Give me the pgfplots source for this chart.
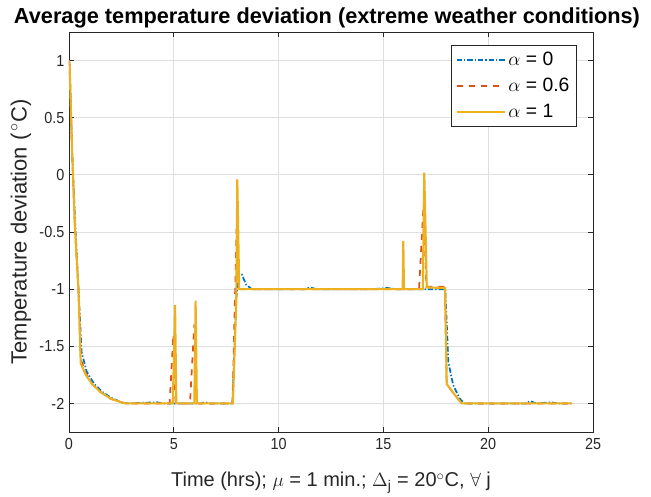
\documentclass[border=0pt]{standalone}
\usepackage{fontspec}
\setmainfont{Liberation Sans}
\newfontfamily\tickfont{Liberation Sans}[FakeStretch=0.9]
\usepackage{pgfplots}
\pgfplotsset{compat=1.18}
\definecolor{mblue}{rgb}{0,0.447,0.741}
\definecolor{mred}{rgb}{0.85,0.325,0.098}
\definecolor{myellow}{rgb}{0.929,0.694,0.125}
\definecolor{mgrid}{RGB}{223,223,223}
\definecolor{maxis}{RGB}{38,38,38}
\begin{document}
\begin{tikzpicture}
\begin{axis}[
  scale only axis, width=393pt, height=300pt,
  xmin=0, xmax=25, ymin=-2.25, ymax=1.25,
  xtick={0,5,10,15,20,25}, xticklabels={0,5,10,15,20,25},
  ytick={-2,-1.5,-1,-0.5,0,0.5,1}, yticklabels={-2,-1.5,-1,-0.5,0,0.5,1},
  tick align=inside, major tick length=4pt,
  grid=major, grid style={mgrid, line width=0.6pt},
  axis line style={maxis, line width=0.6pt},
  tick style={maxis, line width=0.6pt},
  ticklabel style={font=\tickfont\fontsize{12}{14}\selectfont, text=maxis},
  xticklabel style={yshift=-1pt},
  title={\bfseries Average temperature deviation (extreme weather conditions)},
  title style={font=\fontsize{16.3}{19}\selectfont, at={(axis description cs:0.5,1)}, anchor=base, yshift=0pt, xshift=-3pt},
  xlabel={Time (hrs); $\mu$ = 1 min.; $\Delta_{\mathrm{j}}$ = 20$^\circ$C, $\forall$ j},
  xlabel style={font=\fontsize{15}{17}\selectfont, text=maxis, at={(axis description cs:0.5,0)}, anchor=base, yshift=-41.25pt},
  ylabel={Temperature deviation (\hspace{1.5pt}$^\circ$C)},
  ylabel style={font=\fontsize{16.5}{18}\selectfont, text=maxis, at={([xshift=-36pt]axis description cs:0,0.5)}, anchor=center},
  legend style={at={(1,1)}, anchor=north east, xshift=-12pt, yshift=-9.75pt,
    draw=maxis, fill=white, font=\fontsize{14.5}{16}\selectfont, row sep=4pt,
    inner xsep=3.5pt, inner ysep=3pt},
  legend cell align=left,
  legend image code/.code={\draw[#1] (0pt,0pt) -- (36pt,0pt);},
]
\addplot[mblue, line width=1.3pt, dash pattern=on 4pt off 1.5pt on 1pt off 1.5pt] coordinates {
(0,1.0) (0.03,0.95) (0.15,0.2) (0.3,-0.45) (0.45,-0.99) (0.6,-1.55) (0.84,-1.72) (1.2,-1.83) (1.6,-1.9) (2.0,-1.95) (2.5,-1.99) (2.8,-2.0) (4.2,-1.99) (4.5,-2.0) (6.3,-2.0) (6.5,-1.99) (6.7,-2.0)
(7.8,-2.0) (7.97,-1.1) (8.1,-0.86) (8.24,-0.87) (8.45,-0.96) (8.72,-1.0) (11.2,-1.0) (11.5,-0.985) (11.8,-1.0) (14.5,-1.0) (15.2,-0.99) (15.6,-1.0)
(17.95,-1.0) (18.1,-1.64) (18.33,-1.84) (18.65,-1.96) (18.75,-1.98) (18.9,-2.0) (21.8,-2.0) (22.0,-1.98) (22.3,-2.0) (23.0,-1.99) (23.3,-2.0) (24,-2.0)
};
\addlegendentry{$\alpha$ = 0}
\addplot[mred, line width=1.3pt, dash pattern=on 4.5pt off 4.5pt] coordinates {
(0,1.0) (0.03,0.95) (0.15,0.2) (0.28,-0.45) (0.45,-1.0) (0.57,-1.62) (0.82,-1.74) (1.1,-1.83) (1.5,-1.9) (2.0,-1.96) (2.5,-1.99) (2.7,-2.0)
(4.8,-2.0) (4.98,-1.40) (5.08,-1.98) (5.25,-2.0) (5.77,-2.0) (5.98,-1.31) (6.05,-2.0)
(7.8,-2.0) (8.0,-0.45) (8.1,-1.0) (16.7,-1.0) (16.92,-0.25) (17.05,-0.98) (17.94,-0.98) (18.02,-1.83) (18.3,-1.9) (18.73,-2.0) (24,-2.0)
};
\addlegendentry{$\alpha$ = 0.6}
\addplot[myellow, line width=1.6pt] coordinates {
(0,1.0) (0.03,0.95) (0.15,0.2) (0.28,-0.45) (0.45,-1.0) (0.56,-1.65) (0.8,-1.75) (1.1,-1.83) (1.5,-1.9) (2.0,-1.96) (2.5,-1.99) (2.7,-2.0)
(4.95,-2.0) (5.02,-1.5) (5.06,-1.14) (5.12,-2.0) (5.98,-2.0) (6.04,-1.10) (6.10,-2.0)
(7.82,-2.0) (7.98,-1.1) (8.03,-0.04) (8.12,-1.0) (15.92,-1.0) (15.95,-0.58) (15.98,-1.0)
(16.88,-1.0) (16.95,0.02) (17.07,-0.985) (17.94,-0.99) (18.02,-1.83) (18.3,-1.9) (18.73,-2.0) (24,-2.0)
};
\addlegendentry{$\alpha$ = 1}
\end{axis}
\pgfresetboundingbox
\path ([xshift=-51.75pt,yshift=-48.75pt]current axis.south west) rectangle ([xshift=43.5pt,yshift=24pt]current axis.north east);
\end{tikzpicture}
\end{document}
